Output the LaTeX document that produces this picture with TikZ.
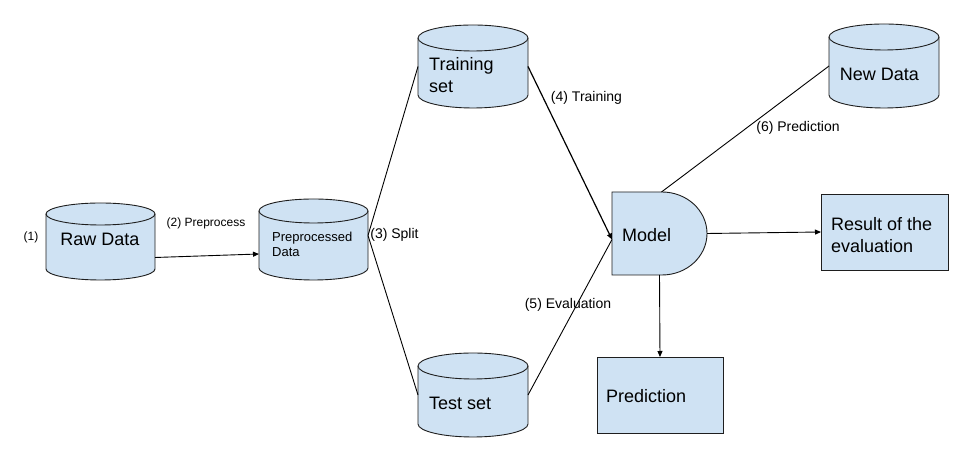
\documentclass[tikz,border=0pt]{standalone}
\usepackage{fontspec}
\setmainfont{Liberation Sans}
\usetikzlibrary{arrows.meta}
\definecolor{boxfill}{HTML}{CFE2F3}
\definecolor{edgecol}{HTML}{1E1E1E}
\tikzset{
  shapestyle/.style={draw=edgecol, fill=boxfill, line width=0.9pt},
  anchorbox/.style={inner sep=0pt, outer sep=0pt},
  conn/.style={draw=black, line width=0.9pt},
  tip/.style={-{Triangle[length=6pt,width=5pt]}},
  bigtxt/.style={font=\fontsize{18}{22}\selectfont, inner sep=0pt, align=left},
  midtxt/.style={font=\fontsize{13}{15}\selectfont, inner sep=0pt, align=left},
  labtxt/.style={font=\fontsize{14}{16}\selectfont, inner sep=0pt},
  smalltxt/.style={font=\fontsize{12}{14}\selectfont, inner sep=0pt},
}
% name, cx, cy, w, h, ry
\newcommand\cylshape[6]{%
  \node[anchorbox, minimum width=#4pt, minimum height=#5pt] (#1) at (#2,#3) {};
  \filldraw[shapestyle] (#2-#4/2, #3+#5/2-#6) -- (#2-#4/2, #3-#5/2+#6)
     arc[start angle=180, end angle=360, x radius=#4/2, y radius=#6]
     -- (#2+#4/2, #3+#5/2-#6)
     arc[start angle=0, end angle=180, x radius=#4/2, y radius=#6] -- cycle;
  \draw[shapestyle, fill=none] (#2-#4/2, #3+#5/2-#6)
     arc[start angle=180, end angle=360, x radius=#4/2, y radius=#6];
}
\begin{document}
\begin{tikzpicture}[x=1pt, y=1pt]
\useasboundingbox (0,0) rectangle (978,460);
\fill[white] (0,0) rectangle (978,460);

% cylinders
\cylshape{raw}{100.5}{218.5}{109}{77}{11}
\cylshape{pre}{313.5}{220.5}{109}{81}{12}
\cylshape{train}{473}{393.5}{110}{83}{13}
\cylshape{test}{473}{65}{110}{84}{13}
\cylshape{new}{884}{394}{110}{84}{13}

% model
\node[anchorbox, minimum width=95pt, minimum height=83pt] (model) at (659.5,226.5) {};
\filldraw[shapestyle] (612,268) -- (662,268)
   arc[start angle=90, end angle=-90, x radius=45, y radius=41.5]
   -- (612,185) -- cycle;

% boxes
\node[shapestyle, anchorbox, minimum width=127pt, minimum height=76pt] (res) at (884.5,228) {};
\node[shapestyle, anchorbox, minimum width=126pt, minimum height=76pt] (pred) at (660,65) {};

% texts
\node[bigtxt] (rawtxt) at (100,221) {Raw Data};
\node[midtxt, anchor=west] (pretxt) at (272,215.5) {Preprocessed\\Data};
\node[bigtxt, anchor=west] (traintxt) at (429,385) {Training\\set};
\node[bigtxt, anchor=west] (testtxt) at (429,57) {Test set};
\node[bigtxt] (newtxt) at (879.5,386) {New Data};
\node[bigtxt, anchor=west] (modeltxt) at (622,225) {Model};
\node[bigtxt, anchor=west] (restxt) at (831,225) {Result of the\\evaluation};
\node[bigtxt, anchor=west] (predtxt) at (606,64) {Prediction};

% connectors
\draw[conn, tip] ([yshift=-16]raw.east) -- ([yshift=-14.5]pre.west);
\draw[conn] ([yshift=4]pre.east) -- (train.west);
\draw[conn] ([yshift=4]pre.east) -- (test.west);
\draw[conn, tip, line width=1.2pt] (train.east) -- ([yshift=-6]model.west);
\draw[conn] (test.east) -- ([yshift=-6]model.west);
\draw[conn] ([xshift=2]model.north) -- (new.west);
\draw[conn, tip] (model.east) -- (res.west);
\draw[conn, tip] (model.south) -- (pred.north);

% labels
\node[smalltxt] (l1) at (31,223) {(1)};
\node[smalltxt] (l2) at (206,237) {(2) Preprocess};
\node[labtxt] (l3) at (394.5,225) {(3) Split};
\node[labtxt] (l4) at (586.5,362) {(4) Training};
\node[labtxt] (l5) at (568,155) {(5) Evaluation};
\node[labtxt] (l6) at (798,332) {(6) Prediction};
\end{tikzpicture}
\end{document}
